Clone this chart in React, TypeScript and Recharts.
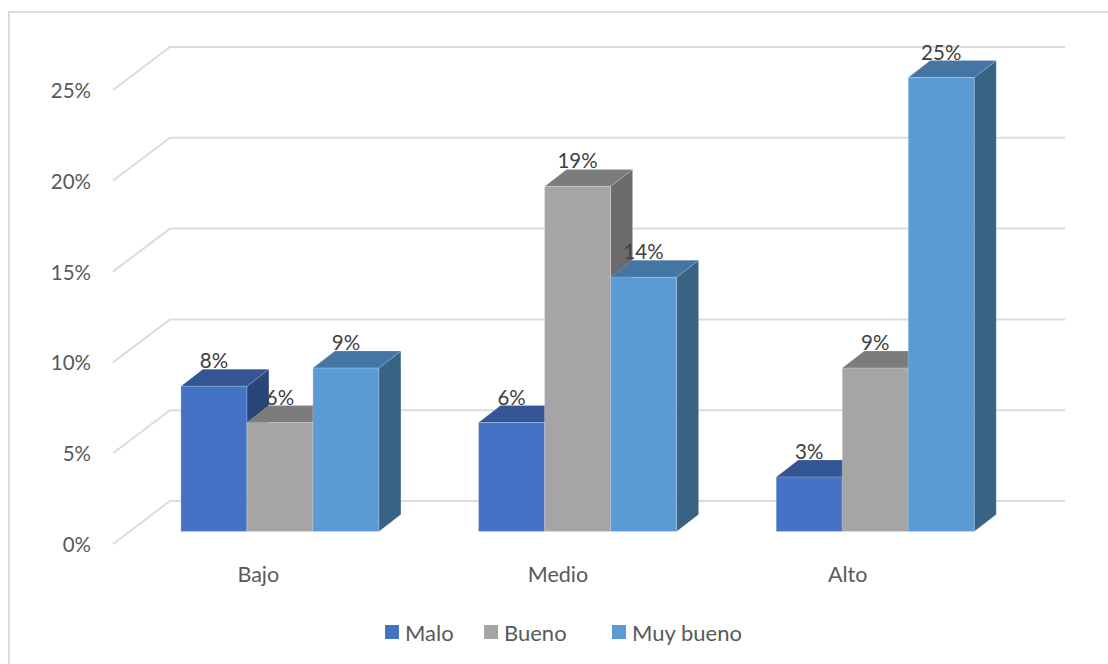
import { BarChart, Bar, XAxis, YAxis, Legend, LabelList, CartesianGrid } from 'recharts'

const categories = ['Bajo', 'Medio', 'Alto']
const malo = [8, 6, 3]
const bueno = [6, 19, 9]
const muyBueno = [9, 14, 25]
const yTicks = [0, 5, 10, 15, 20, 25]

const chartData = categories.map((name, i) => ({
  name,
  malo: malo[i],
  bueno: bueno[i],
  muyBueno: muyBueno[i],
}))

const FONT = 'Lato, sans-serif'
const DEPTH_X = 22
const DEPTH_Y = 17
// labels in the original are not quite centred under their groups
const categoryNudge = [-22, -20, -28]

function Box3D(props: any) {
  const { x, y, width, height, fill, topColor, sideColor } = props
  const r = x + width
  const b = y + height
  return (
    <g>
      <polygon
        points={`${r},${y} ${r + DEPTH_X},${y - DEPTH_Y} ${r + DEPTH_X},${b - DEPTH_Y} ${r},${b}`}
        fill={sideColor}
        stroke="#ffffff"
        strokeOpacity={0.15}
      />
      <polygon
        points={`${x},${y} ${r},${y} ${r + DEPTH_X},${y - DEPTH_Y} ${x + DEPTH_X},${y - DEPTH_Y}`}
        fill={topColor}
        stroke="#ffffff"
        strokeOpacity={0.15}
      />
      <rect x={x} y={y} width={width} height={height} fill={fill} stroke="#ffffff" strokeOpacity={0.2} />
    </g>
  )
}

// wall gridline plus the floor diagonal running out to the axis label
function WallLine(props: any) {
  const { y1 } = props
  return (
    <polyline
      key={y1}
      points={`113,${y1 + 12.5} 170,${y1 - 30.5} 1065,${y1 - 30.5}`}
      fill="none"
      stroke="#dcdcdc"
      strokeWidth={2}
    />
  )
}

function ValueTick(props: any) {
  const { y, payload } = props
  return (
    <text x={91} y={y + 20.5} textAnchor="end" fontSize={20.5} fontFamily={FONT} fill="#595959">
      {payload.value}%
    </text>
  )
}

function CategoryTick(props: any) {
  const { x, payload, index } = props
  return (
    <text x={x + categoryNudge[index]} y={582} textAnchor="middle" fontSize={21.5} fontFamily={FONT} fill="#595959">
      {payload.value}
    </text>
  )
}

function ValueLabel(props: any) {
  const { x, y, width, value } = props
  return (
    <text x={x + width / 2} y={y - 18} textAnchor="middle" fontSize={20.5} fontFamily={FONT} fill="#404040">
      {value}%
    </text>
  )
}

const legendLeft = [385, 484, 612]

function LegendRow(props: any) {
  return (
    <div style={{ position: 'relative', width: 1108, height: 30 }}>
      {props.payload.map((item: any, i: number) => (
        <div
          key={item.value}
          style={{
            position: 'absolute',
            left: legendLeft[i],
            top: 0,
            display: 'flex',
            alignItems: 'center',
            height: 30,
            fontFamily: FONT,
            fontSize: 22,
            color: '#595959',
          }}
        >
          <span style={{ width: 14, height: 14, background: item.color, marginRight: 6 }} />
          {item.value}
        </div>
      ))}
    </div>
  )
}

export default function App() {
  return (
    <div
      style={{
        position: 'absolute',
        left: 0,
        top: 0,
        width: 1108,
        height: 664,
        background: '#fff',
        overflow: 'hidden',
      }}
    >
      <div
        style={{
          position: 'absolute',
          left: 8,
          top: 11,
          width: 1200,
          height: 800,
          borderTop: '2px solid #dcdcdc',
          borderLeft: '2px solid #dcdcdc',
        }}
      />
      <BarChart
        width={1108}
        height={664}
        data={chartData}
        barGap={0}
        barCategoryGap={49.4}
        margin={{ top: 77.5, right: 83.5, bottom: 0, left: 0 }}
        style={{ position: 'absolute', left: 0, top: 0 }}
      >
        <CartesianGrid vertical={false} horizontal={(p: any) => <WallLine {...p} />} syncWithTicks />
        <XAxis dataKey="name" height={132.5} axisLine={false} tickLine={false} tick={<CategoryTick />} interval={0} />
        <YAxis
          width={131.5}
          domain={[0, 25]}
          ticks={yTicks}
          axisLine={false}
          tickLine={false}
          tick={<ValueTick />}
          interval={0}
        />
        <Legend
          layout="horizontal"
          verticalAlign="middle"
          align="center"
          itemSorter={null}
          content={<LegendRow />}
          wrapperStyle={{ left: 0, top: 617, width: 1108, transform: 'none' }}
        />
        <Bar
          dataKey="malo"
          name="Malo"
          fill="#4472c4"
          isAnimationActive={false}
          shape={(p: any) => <Box3D {...p} topColor="#345594" sideColor="#2a4679" />}
        >
          <LabelList dataKey="malo" content={<ValueLabel />} />
        </Bar>
        <Bar
          dataKey="bueno"
          name="Bueno"
          fill="#a5a5a5"
          isAnimationActive={false}
          shape={(p: any) => <Box3D {...p} topColor="#7c7c7c" sideColor="#6b6b6b" />}
        >
          <LabelList dataKey="bueno" content={<ValueLabel />} />
        </Bar>
        <Bar
          dataKey="muyBueno"
          name="Muy bueno"
          fill="#5b9bd5"
          isAnimationActive={false}
          shape={(p: any) => <Box3D {...p} topColor="#4575a2" sideColor="#386385" />}
        >
          <LabelList dataKey="muyBueno" content={<ValueLabel />} />
        </Bar>
      </BarChart>
    </div>
  )
}
